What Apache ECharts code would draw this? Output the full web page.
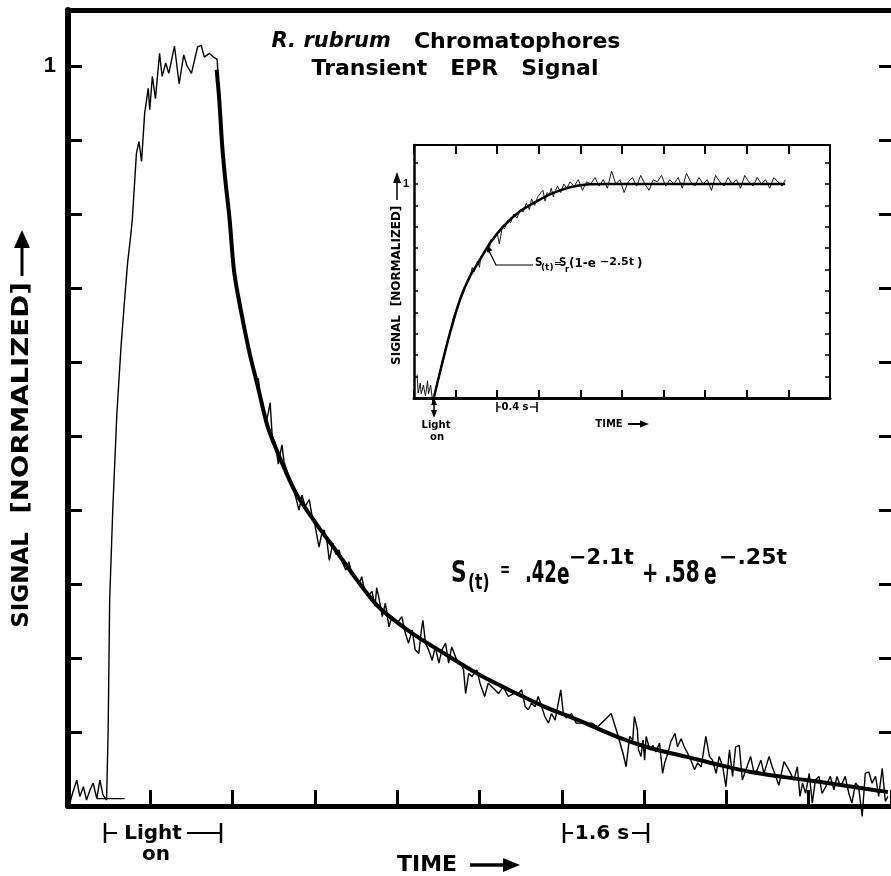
<!DOCTYPE html>
<html>
<head>
<meta charset="utf-8">
<script src="https://cdn.jsdelivr.net/npm/echarts@6/dist/echarts.min.js"></script>
<style>
html, body { margin: 0; padding: 0; background: #fff; }
#chart { width: 891px; height: 876px; }
</style>
</head>
<body>
<div id="chart"></div>
<script>
// main recorder trace, time in seconds (one tick = 1.6 s), signal normalized
var traceT = [0.04, 0.10, 0.17, 0.23, 0.30, 0.36, 0.43, 0.49, 0.56, 0.62, 0.68, 0.75,
	0.78, 0.81, 0.87, 0.95, 1.03, 1.10, 1.16, 1.21, 1.25, 1.33, 1.38, 1.43, 1.49, 1.56, 1.59, 1.64, 1.70, 1.78,
	1.83, 1.90, 1.96, 2.07, 2.16, 2.25, 2.31, 2.40, 2.52, 2.59, 2.65, 2.75, 2.83, 2.90,
	2.94, 3.00, 3.06, 3.14, 3.20, 3.25, 3.29, 3.33, 3.37, 3.43, 3.49, 3.54, 3.60, 3.66, 3.70, 3.74, 3.80, 3.85,
	3.89, 3.93, 3.97, 4.03, 4.09, 4.13, 4.16, 4.20, 4.26, 4.32, 4.38, 4.44, 4.49, 4.55, 4.61, 4.69, 4.75, 4.80,
	4.88, 4.94, 4.98, 5.04, 5.08, 5.15, 5.21, 5.27, 5.33, 5.40, 5.46, 5.52, 5.58, 5.66, 5.71, 5.77, 5.85, 5.91,
	5.97, 6.00, 6.04, 6.11, 6.17, 6.24, 6.30, 6.40, 6.49, 6.56, 6.62, 6.69, 6.75, 6.82, 6.87, 6.90, 6.95, 7.01,
	7.08, 7.14, 7.21, 7.27, 7.34, 7.40, 7.46, 7.56, 7.63, 7.69, 7.73, 7.79, 7.85, 7.95, 8.01, 8.10, 8.17, 8.27,
	8.37, 8.46, 8.56, 8.66, 8.76, 8.82, 8.89, 8.95, 9.01, 9.08, 9.14, 9.21, 9.27, 9.34, 9.40, 9.47, 9.58, 9.63,
	9.69, 9.79, 9.88, 10.05, 10.18, 10.30, 10.43, 10.56, 10.69, 10.79, 10.85, 10.92, 10.98, 11.01, 11.07, 11.09,
	11.14, 11.18, 11.21, 11.24, 11.31, 11.37, 11.43, 11.50, 11.56, 11.60, 11.66, 11.72, 11.80, 11.85, 11.92, 11.98,
	12.05, 12.11, 12.18, 12.24, 12.31, 12.40, 12.47, 12.53, 12.60, 12.66, 12.73, 12.79, 12.86, 12.92, 12.98, 13.05,
	13.11, 13.18, 13.27, 13.34, 13.40, 13.47, 13.53, 13.63, 13.69, 13.76, 13.82, 13.92, 13.98, 14.05, 14.11, 14.18,
	14.23, 14.28, 14.34, 14.41, 14.47, 14.53, 14.60, 14.66, 14.73, 14.82, 14.89, 14.95, 15.02, 15.11, 15.18, 15.24,
	15.31, 15.37, 15.44, 15.50, 15.57, 15.63, 15.70, 15.76, 15.83, 15.89, 15.94];
var traceV = [0.005, 0.020, 0.035, 0.013, 0.026, 0.008, 0.022, 0.031, 0.010, 0.035, 0.015, 0.008,
	0.100, 0.278, 0.400, 0.530, 0.620, 0.684, 0.735, 0.765, 0.792, 0.882, 0.898, 0.871, 0.936, 0.970, 0.941, 0.986, 0.956, 1.017,
	0.986, 1.004, 0.990, 1.027, 0.976, 1.015, 1.001, 0.990, 1.026, 1.028, 1.012, 1.017, 1.012, 1.009,
	0.955, 0.890, 0.845, 0.795, 0.755, 0.712, 0.690, 0.688, 0.665, 0.645, 0.622, 0.608, 0.590, 0.572, 0.578, 0.552, 0.535, 0.518,
	0.530, 0.545, 0.500, 0.490, 0.462, 0.478, 0.488, 0.465, 0.452, 0.440, 0.428, 0.414, 0.400, 0.420, 0.405, 0.414, 0.390, 0.380,
	0.350, 0.370, 0.373, 0.355, 0.332, 0.355, 0.340, 0.346, 0.330, 0.319, 0.330, 0.314, 0.310, 0.300, 0.310, 0.290, 0.285, 0.290,
	0.270, 0.295, 0.283, 0.256, 0.274, 0.242, 0.256, 0.247, 0.256, 0.233, 0.220, 0.238, 0.211, 0.206, 0.238, 0.251, 0.220, 0.211,
	0.197, 0.215, 0.193, 0.211, 0.220, 0.193, 0.215, 0.197, 0.193, 0.184, 0.152, 0.179, 0.175, 0.184, 0.166, 0.148, 0.166, 0.159,
	0.152, 0.161, 0.148, 0.152, 0.152, 0.157, 0.134, 0.130, 0.139, 0.134, 0.148, 0.134, 0.121, 0.112, 0.125, 0.116, 0.157, 0.125,
	0.119, 0.125, 0.112, 0.112, 0.112, 0.107, 0.116, 0.125, 0.096, 0.071, 0.053, 0.094, 0.089, 0.121, 0.103, 0.076,
	0.067, 0.089, 0.062, 0.094, 0.076, 0.082, 0.073, 0.085, 0.044, 0.058, 0.071, 0.087, 0.098, 0.080, 0.091, 0.080,
	0.071, 0.062, 0.049, 0.058, 0.053, 0.094, 0.067, 0.062, 0.044, 0.067, 0.053, 0.026, 0.076, 0.040, 0.080, 0.082,
	0.035, 0.049, 0.067, 0.044, 0.049, 0.062, 0.044, 0.067, 0.053, 0.040, 0.028, 0.060, 0.053, 0.044, 0.035, 0.053,
	0.013, 0.031, 0.017, 0.044, 0.004, 0.035, 0.040, 0.017, 0.026, 0.040, 0.022, 0.040, 0.026, 0.040, 0.017, 0.004,
	0.031, 0.026, -0.014, 0.044, 0.046, 0.031, 0.040, 0.013, 0.051, 0.006, 0.013];
// short flat pen stroke at the baseline
var holdT = [0.56, 1.10];
var holdV = [0.010, 0.010];
// two exponential fit drawn over the decay
var fitT = [2.89, 2.94, 3.00, 3.06, 3.14, 3.23, 3.36, 3.53, 3.69, 3.88, 4.11, 4.43, 4.82, 5.20, 5.59, 6.04,
	6.68, 7.34, 7.98, 8.63, 9.27, 9.92, 10.69, 11.33, 11.99, 12.63, 13.27, 13.93, 14.57, 15.15, 15.73, 15.94];
var fitV = [0.995, 0.955, 0.890, 0.845, 0.794, 0.722, 0.670, 0.612, 0.567, 0.513, 0.472, 0.423, 0.382, 0.346, 0.308, 0.269,
	0.234, 0.205, 0.178, 0.155, 0.134, 0.116, 0.093, 0.078, 0.067, 0.056, 0.046, 0.039, 0.033, 0.027, 0.021, 0.019];
var mainYLabels = ['1'];

// inset: rise of the signal, one tick = 0.4 s
var insetT = [0.03, 0.04, 0.06, 0.07, 0.09, 0.11, 0.13, 0.14, 0.16, 0.18, 0.19,
	0.23, 0.27, 0.31, 0.35, 0.38, 0.42, 0.46, 0.50, 0.54, 0.56, 0.58, 0.61, 0.63, 0.64, 0.67, 0.70, 0.72, 0.74,
	0.77, 0.80, 0.82, 0.85, 0.87, 0.90, 0.93, 0.96, 0.99, 1.02, 1.05, 1.08, 1.11, 1.13, 1.16, 1.19, 1.22, 1.24,
	1.26, 1.28, 1.30, 1.32, 1.34, 1.36, 1.38, 1.41, 1.44, 1.47, 1.50,
	1.54, 1.58, 1.62, 1.66, 1.70, 1.74, 1.78, 1.82, 1.86, 1.90, 1.94, 1.98, 2.02, 2.06, 2.10, 2.14, 2.18, 2.22,
	2.26, 2.30, 2.34, 2.38, 2.42, 2.46, 2.50, 2.54, 2.58, 2.62, 2.66, 2.70, 2.74, 2.78, 2.82, 2.86, 2.90, 2.94,
	2.98, 3.02, 3.06, 3.10, 3.14, 3.18, 3.22, 3.26, 3.30, 3.34, 3.38, 3.42, 3.46, 3.50, 3.54, 3.57];
var insetV = [0.109, 0.023, 0.070, 0.020, 0.060, 0.010, 0.080, 0.020, 0.060, -0.020, 0.000,
	0.08, 0.17, 0.24, 0.31, 0.38, 0.43, 0.49, 0.53, 0.57, 0.61, 0.59, 0.64, 0.61, 0.66, 0.67, 0.70, 0.68, 0.74,
	0.74, 0.77, 0.72, 0.80, 0.79, 0.83, 0.82, 0.86, 0.84, 0.88, 0.87, 0.91, 0.88, 0.93, 0.90, 0.94, 0.96, 0.97,
	0.92, 0.96, 0.95, 0.98, 0.94, 0.97, 0.99, 0.96, 1.00, 0.98, 1.01,
	0.99, 1.02, 0.97, 1.01, 1.00, 1.03, 0.99, 1.02, 0.98, 1.06, 1.00, 1.02, 0.96, 1.01, 1.03, 0.99, 1.04, 1.00,
	0.97, 1.02, 1.01, 1.04, 0.99, 1.02, 1.00, 1.03, 0.98, 1.05, 1.01, 0.99, 1.03, 1.00, 1.02, 0.97, 1.04, 1.01,
	0.99, 1.03, 1.00, 1.02, 0.98, 1.04, 1.01, 0.99, 1.03, 1.00, 1.02, 0.98, 1.03, 1.01, 0.99, 1.02];
var insetFitT = [0.19, 0.27, 0.346, 0.442, 0.538, 0.635, 0.731, 0.859, 1.019, 1.18, 1.339, 1.50, 1.66, 1.85, 3.57];
var insetFitV = [0.000, 0.160, 0.304, 0.459, 0.568, 0.646, 0.724, 0.802, 0.872, 0.919, 0.958, 0.985, 0.998, 1.000, 1.000];
var insetYLabels = ['1'];

var zip = function (xs, ys) {
	return xs.map(function (x, i) { return [x, ys[i]]; });
};

var font = '"DejaVu Sans", sans-serif';

var txt = function (text, x, y, size, extra) {
	var el = {
		type: 'text', x: x, y: y, z: 50,
		style: {
			text: text, fill: '#000',
			font: 'bold ' + size + 'px ' + font,
			textAlign: 'center', textVerticalAlign: 'middle',
			align: 'center', verticalAlign: 'middle'
		}
	};
	if (extra) {
		for (var k in extra) el[k] = extra[k];
	}
	return el;
};
var seg = function (x1, y1, x2, y2, w) {
	return { type: 'line', z: 50, shape: { x1: x1, y1: y1, x2: x2, y2: y2 }, style: { stroke: '#000', lineWidth: w || 2 } };
};
var head = function (pts) {
	return { type: 'polygon', z: 50, shape: { points: pts }, style: { fill: '#000' } };
};
var leftTxt = function (text, x, y, size, extra) {
	var el = txt(text, x, y, size, extra);
	el.style.textAlign = 'left';
	el.style.align = 'left';
	return el;
};

var graphics = [
	// title
	{
		type: 'text', x: 446, y: 42, z: 50,
		style: {
			text: '{i|R. rubrum}   Chromatophores',
			font: 'bold 22px ' + font, fill: '#000',
			textAlign: 'center', textVerticalAlign: 'middle', align: 'center', verticalAlign: 'middle',
			rich: { i: { fontStyle: 'italic', fontWeight: 'bold', fontSize: 21, fontFamily: 'DejaVu Sans' } }
		}
	},
	txt('Transient   EPR   Signal', 455, 69, 22),
	// main y name
	txt('SIGNAL', 22, 580, 23, { rotation: Math.PI / 2 }),
	txt('[NORMALIZED]', 22, 398, 23, { rotation: Math.PI / 2, scaleX: 1.2 }),
	seg(22, 276, 22, 244, 3),
	head([[14, 248], [30, 248], [22, 230]]),
	// light on bracket
	seg(105, 823, 105, 843, 2.5), seg(105, 833, 117, 833, 2),
	txt('Light', 153, 834, 20),
	seg(187, 833, 221, 833, 2), seg(221, 823, 221, 843, 2.5),
	txt('on', 156, 855, 20),
	// 1.6 s bracket
	seg(564, 823, 564, 843, 2.5), seg(564, 833, 573, 833, 2),
	txt('1.6 s', 602, 834, 20),
	seg(632, 833, 648, 833, 2), seg(648, 823, 648, 843, 2.5),
	txt('TIME', 427, 865, 22),
	seg(470, 865, 506, 865, 3.5),
	head([[503, 858], [520, 865], [503, 872]]),
	// fit equation
	leftTxt('S', 451, 574, 31, { scaleX: 0.7 }),
	leftTxt('(t)', 468, 583, 22, { scaleX: 0.7 }),
	leftTxt('=', 500, 571, 20, { scaleX: 0.6 }),
	leftTxt('.42', 525, 574, 31, { scaleX: 0.58 }),
	leftTxt('e', 557, 576, 31, { scaleX: 0.6 }),
	leftTxt('\u22122.1t', 569, 559, 21, { scaleX: 1.0 }),
	leftTxt('+', 642, 575, 28, { scaleX: 0.7 }),
	leftTxt('.58', 664, 574, 31, { scaleX: 0.65 }),
	leftTxt('e', 704, 576, 31, { scaleX: 0.6 }),
	leftTxt('\u2212.25t', 719, 559, 21, { scaleX: 1.05 }),
	// inset labels
	txt('SIGNAL', 397, 340, 12, { rotation: Math.PI / 2 }),
	txt('[NORMALIZED]', 397, 256, 12, { rotation: Math.PI / 2 }),
	seg(397, 200, 397, 180, 1.5),
	head([[393, 183], [401, 183], [397, 172]]),
	seg(434, 400, 434, 415, 1.5),
	head([[431, 405], [437, 405], [434, 398]]),
	head([[431, 410], [437, 410], [434, 418]]),
	txt('Light', 436, 425, 10),
	txt('on', 437, 437, 10),
	seg(497, 402, 497, 412, 1.5), seg(497, 407, 501, 407, 1.2),
	txt('0.4 s', 515, 407, 10),
	seg(530, 407, 537, 407, 1.2), seg(537, 402, 537, 412, 1.5),
	txt('TIME', 609, 424, 10),
	seg(628, 424, 642, 424, 2),
	head([[640, 420.5], [649, 424], [640, 427.5]]),
	// inset equation with pointer
	{ type: 'polyline', z: 50, shape: { points: [[533, 265], [496, 265], [489, 251]] }, style: { stroke: '#000', lineWidth: 1.2, fill: null } },
	head([[487, 245], [492.5, 250.2], [487.1, 252.6]]),
	leftTxt('S', 535, 263, 13, { scaleX: 0.8 }),
	leftTxt('(t)', 541, 268, 9),
	leftTxt('=', 554, 264, 9),
	leftTxt('S', 559, 263, 13, { scaleX: 0.8 }),
	leftTxt('r', 565, 270, 8),
	leftTxt('(1-e', 569, 264, 12),
	leftTxt('\u22122.5t', 600, 262, 11),
	leftTxt(')', 637, 264, 12)
];

var labelOnly = function (list) {
	return function (v) { return Math.abs(v - 1) < 1e-6 ? list[0] : ''; };
};

var axisBase = function (extra) {
	var a = {
		type: 'value',
		splitLine: { show: false },
		axisLabel: { show: false },
		axisLine: { onZero: false, lineStyle: { color: '#000' } },
		axisTick: { inside: true, lineStyle: { color: '#000' } }
	};
	for (var k in extra) a[k] = extra[k];
	return a;
};

var option = {
	backgroundColor: '#fff',
	animation: false,
	grid: [
		{ left: 68, top: 10, width: 826, height: 796 },
		{ left: 414, top: 145, width: 416, height: 253 }
	],
	xAxis: [
		axisBase({ gridIndex: 0, min: 0, max: 16, interval: 1.6, position: 'bottom',
			axisLine: { onZero: false, lineStyle: { color: '#000', width: 5 } },
			axisTick: { inside: true, length: 16, lineStyle: { color: '#000', width: 3 } } }),
		axisBase({ gridIndex: 0, min: 0, max: 16, interval: 1.6, position: 'top',
			axisLine: { onZero: false, lineStyle: { color: '#000', width: 5 } },
			axisTick: { show: false } }),
		axisBase({ gridIndex: 1, min: 0, max: 4, interval: 0.4, position: 'bottom',
			axisLine: { onZero: false, lineStyle: { color: '#000', width: 3 } },
			axisTick: { inside: true, length: 8, lineStyle: { color: '#000', width: 2 } } }),
		axisBase({ gridIndex: 1, min: 0, max: 4, interval: 0.4, position: 'top',
			axisLine: { onZero: false, lineStyle: { color: '#000', width: 2 } },
			axisTick: { inside: true, length: 9, lineStyle: { color: '#000', width: 2 } } })
	],
	yAxis: [
		axisBase({ gridIndex: 0, min: 0, max: 1.0757, interval: 0.1, position: 'left',
			axisLine: { onZero: false, lineStyle: { color: '#000', width: 6 } },
			axisTick: { inside: true, length: 14, lineStyle: { color: '#000', width: 3 } },
			axisLabel: { show: true, formatter: labelOnly(mainYLabels), margin: 12, color: '#000',
				fontFamily: 'Liberation Sans', fontWeight: 'bold', fontSize: 22 } }),
		axisBase({ gridIndex: 0, min: 0, max: 1.0757, interval: 0.1, position: 'right',
			axisLine: { show: false, onZero: false },
			axisTick: { inside: true, length: 12, lineStyle: { color: '#000', width: 3 } } }),
		axisBase({ gridIndex: 1, min: 0, max: 1.182, interval: 0.1, position: 'left',
			axisLine: { onZero: false, lineStyle: { color: '#000', width: 2.5 } },
			axisTick: { inside: true, length: 4, lineStyle: { color: '#000', width: 1.5 } },
			axisLabel: { show: true, formatter: labelOnly(insetYLabels), margin: 5, color: '#000',
				fontFamily: 'Liberation Sans', fontWeight: 'bold', fontSize: 11 } }),
		axisBase({ gridIndex: 1, min: 0, max: 1.182, interval: 0.1, position: 'right',
			axisLine: { onZero: false, lineStyle: { color: '#000', width: 2 } },
			axisTick: { inside: true, length: 5, lineStyle: { color: '#000', width: 1.5 } } })
	],
	series: [
		{ name: 'trace', type: 'line', xAxisIndex: 0, yAxisIndex: 0, data: zip(traceT, traceV),
			showSymbol: false, symbol: 'none', clip: false, lineStyle: { color: '#000', width: 1.4 } },
		{ name: 'hold', type: 'line', xAxisIndex: 0, yAxisIndex: 0, data: zip(holdT, holdV),
			symbol: 'none', lineStyle: { color: '#000', width: 1.2 } },
		{ name: 'fit', type: 'line', xAxisIndex: 0, yAxisIndex: 0, data: zip(fitT, fitV),
			symbol: 'none', smooth: 0.3, z: 5, lineStyle: { color: '#000', width: 4 } },
		{ name: 'insetTrace', type: 'line', xAxisIndex: 2, yAxisIndex: 2, data: zip(insetT, insetV),
			symbol: 'none', clip: false, lineStyle: { color: '#000', width: 0.9 } },
		{ name: 'insetFit', type: 'line', xAxisIndex: 2, yAxisIndex: 2, data: zip(insetFitT, insetFitV),
			symbol: 'none', smooth: 0.3, z: 5, lineStyle: { color: '#000', width: 2.5 } }
	],
	graphic: graphics
};

var chart = echarts.init(document.getElementById('chart'));
chart.setOption(option);
</script>
</body>
</html>
